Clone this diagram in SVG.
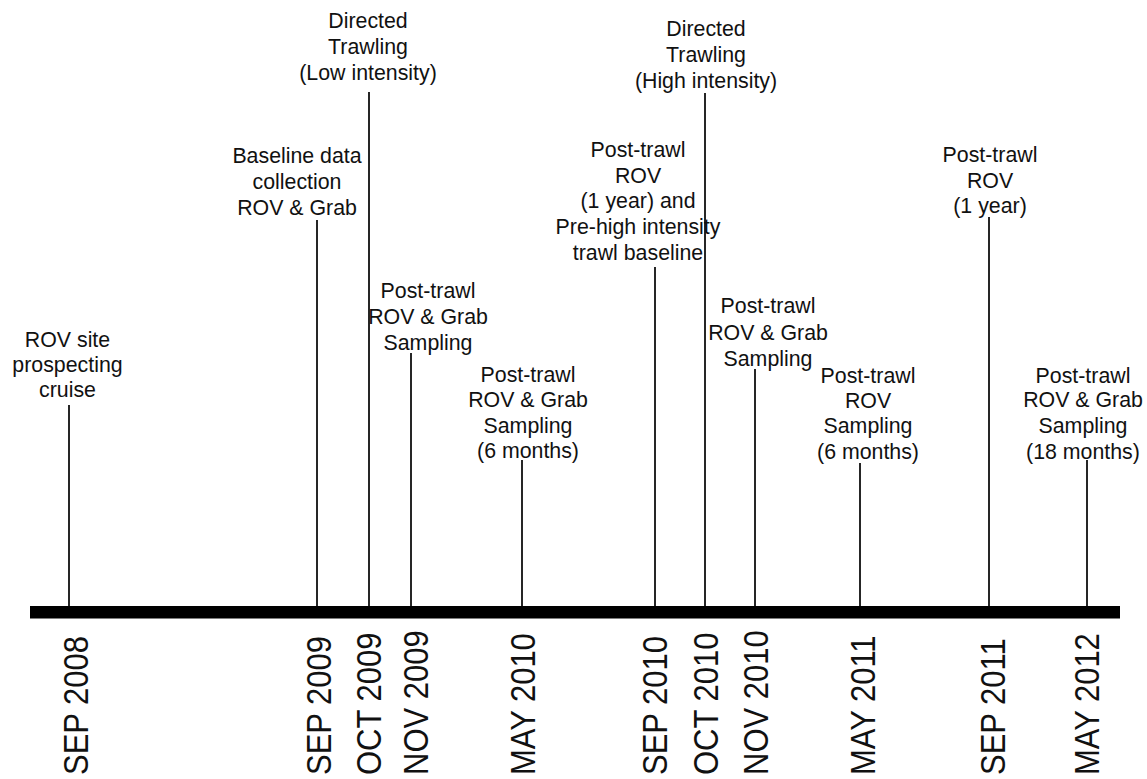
<svg xmlns="http://www.w3.org/2000/svg" width="1147" height="779" viewBox="0 0 1147 779">
<style>
.lbl{font-family:"Liberation Sans",Arial,sans-serif;font-size:21.33px;fill:#111;text-anchor:middle}
.date{font-family:"Liberation Sans",Arial,sans-serif;font-size:31px;fill:#111;text-anchor:start}
.stem{stroke:#262626;stroke-width:2;fill:none}
</style>
<rect width="1147" height="779" fill="#fff"/>
<g id="connectors">
<line class="stem" x1="69" y1="405" x2="69" y2="607"/>
<line class="stem" x1="317" y1="220" x2="317" y2="607"/>
<line class="stem" x1="369" y1="92" x2="369" y2="607"/>
<line class="stem" x1="411" y1="353" x2="411" y2="607"/>
<line class="stem" x1="522" y1="460" x2="522" y2="607"/>
<line class="stem" x1="655" y1="267" x2="655" y2="607"/>
<line class="stem" x1="705" y1="93" x2="705" y2="607"/>
<line class="stem" x1="755" y1="369" x2="755" y2="607"/>
<line class="stem" x1="860" y1="463" x2="860" y2="607"/>
<line class="stem" x1="989" y1="217" x2="989" y2="607"/>
<line class="stem" x1="1087" y1="460" x2="1087" y2="607"/>
</g>
<g id="axis"><rect x="30" y="606" width="1090" height="12.5" fill="#000"/></g>
<g id="n-sep2008">
<text class="lbl"><tspan x="67.5" y="347">ROV site</tspan><tspan x="67.5" y="372">prospecting</tspan><tspan x="67.5" y="397">cruise</tspan></text>
<text class="date" transform="translate(88,775) rotate(-90) scale(1,1.16)">SEP 2008</text>
</g>
<g id="n-sep2009">
<text class="lbl"><tspan x="297" y="163">Baseline data</tspan><tspan x="297" y="189">collection</tspan><tspan x="297" y="215">ROV &amp; Grab</tspan></text>
<text class="date" transform="translate(331,775) rotate(-90) scale(1,1.16)">SEP 2009</text>
</g>
<g id="n-oct2009">
<text class="lbl"><tspan x="368" y="28">Directed</tspan><tspan x="368" y="54">Trawling</tspan><tspan x="368" y="80">(Low intensity)</tspan></text>
<text class="date" transform="translate(381,775) rotate(-90) scale(1,1.16)">OCT 2009</text>
</g>
<g id="n-nov2009">
<text class="lbl"><tspan x="428" y="298">Post-trawl</tspan><tspan x="428" y="324">ROV &amp; Grab</tspan><tspan x="428" y="350">Sampling</tspan></text>
<text class="date" transform="translate(428,775) rotate(-90) scale(1,1.16)">NOV 2009</text>
</g>
<g id="n-may2010">
<text class="lbl"><tspan x="528" y="382">Post-trawl</tspan><tspan x="528" y="407">ROV &amp; Grab</tspan><tspan x="528" y="433">Sampling</tspan><tspan x="528" y="458">(6 months)</tspan></text>
<text class="date" transform="translate(535,775) rotate(-90) scale(1,1.16)">MAY 2010</text>
</g>
<g id="n-sep2010">
<text class="lbl"><tspan x="638" y="157">Post-trawl</tspan><tspan x="638" y="183">ROV</tspan><tspan x="638" y="208">(1 year) and</tspan><tspan x="638" y="234">Pre-high intensity</tspan><tspan x="638" y="260">trawl baseline</tspan></text>
<text class="date" transform="translate(667,775) rotate(-90) scale(1,1.16)">SEP 2010</text>
</g>
<g id="n-oct2010">
<text class="lbl"><tspan x="706" y="36">Directed</tspan><tspan x="706" y="62">Trawling</tspan><tspan x="706" y="88">(High intensity)</tspan></text>
<text class="date" transform="translate(718,775) rotate(-90) scale(1,1.16)">OCT 2010</text>
</g>
<g id="n-nov2010">
<text class="lbl"><tspan x="768" y="313">Post-trawl</tspan><tspan x="768" y="340">ROV &amp; Grab</tspan><tspan x="768" y="366">Sampling</tspan></text>
<text class="date" transform="translate(768,775) rotate(-90) scale(1,1.16)">NOV 2010</text>
</g>
<g id="n-may2011">
<text class="lbl"><tspan x="868" y="383">Post-trawl</tspan><tspan x="868" y="408">ROV</tspan><tspan x="868" y="433">Sampling</tspan><tspan x="868" y="459">(6 months)</tspan></text>
<text class="date" transform="translate(875,775) rotate(-90) scale(1,1.16)">MAY 2011</text>
</g>
<g id="n-sep2011">
<text class="lbl"><tspan x="990" y="162">Post-trawl</tspan><tspan x="990" y="188">ROV</tspan><tspan x="990" y="213">(1 year)</tspan></text>
<text class="date" transform="translate(1005,775) rotate(-90) scale(1,1.16)">SEP 2011</text>
</g>
<g id="n-may2012">
<text class="lbl"><tspan x="1083" y="383">Post-trawl</tspan><tspan x="1083" y="407">ROV &amp; Grab</tspan><tspan x="1083" y="433">Sampling</tspan><tspan x="1083" y="459">(18 months)</tspan></text>
<text class="date" transform="translate(1099,775) rotate(-90) scale(1,1.16)">MAY 2012</text>
</g>
</svg>
